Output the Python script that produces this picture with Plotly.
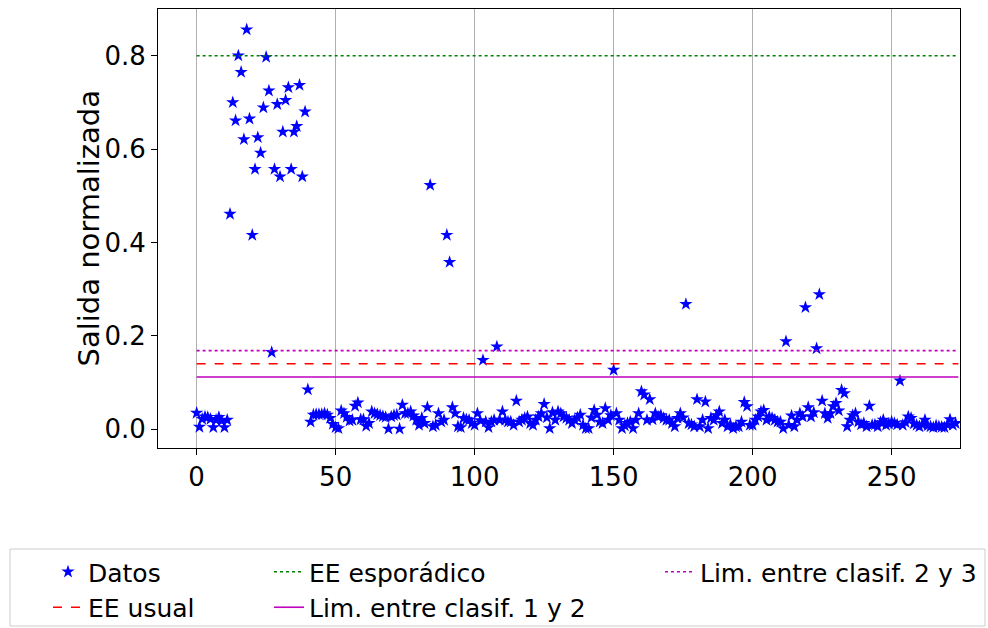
import plotly.graph_objects as go

# Normalized output per sample
salida = [
    0.035, 0.005, 0.022, 0.027, 0.026, 0.022, 0.004, 0.020, 0.026, 0.018,
    0.004, 0.020, 0.461, 0.700, 0.661, 0.800, 0.765, 0.621, 0.856, 0.665,
    0.416, 0.557, 0.625, 0.592, 0.689, 0.797, 0.725, 0.165, 0.557, 0.696,
    0.541, 0.637, 0.705, 0.732, 0.557, 0.637, 0.649, 0.737, 0.541, 0.680,
    0.085, 0.016, 0.031, 0.032, 0.032, 0.032, 0.034, 0.031, 0.024, 0.011,
    0.004, 0.002, 0.040, 0.034, 0.026, 0.018, 0.020, 0.050, 0.057, 0.021,
    0.021, 0.007, 0.013, 0.038, 0.034, 0.032, 0.030, 0.028, 0.026, 0.001,
    0.027, 0.030, 0.031, 0.001, 0.052, 0.034, 0.034, 0.038, 0.029, 0.020,
    0.009, 0.024, 0.013, 0.047, 0.523, 0.006, 0.009, 0.034, 0.016, 0.020,
    0.416, 0.358, 0.047, 0.034, 0.006, 0.004, 0.024, 0.021, 0.020, 0.013,
    0.009, 0.034, 0.019, 0.148, 0.016, 0.004, 0.016, 0.020, 0.177, 0.020,
    0.038, 0.020, 0.016, 0.016, 0.009, 0.061, 0.016, 0.020, 0.024, 0.027,
    0.013, 0.009, 0.020, 0.027, 0.034, 0.054, 0.025, 0.002, 0.036, 0.020,
    0.038, 0.034, 0.027, 0.024, 0.020, 0.013, 0.020, 0.025, 0.031, 0.009,
    0.002, 0.002, 0.025, 0.041, 0.031, 0.016, 0.013, 0.045, 0.020, 0.030,
    0.127, 0.034, 0.020, 0.002, 0.008, 0.013, 0.016, 0.002, 0.020, 0.034,
    0.081, 0.074, 0.020, 0.064, 0.021, 0.034, 0.027, 0.030, 0.024, 0.020,
    0.020, 0.013, 0.006, 0.024, 0.034, 0.025, 0.268, 0.013, 0.010, 0.006,
    0.064, 0.006, 0.020, 0.059, 0.002, 0.024, 0.020, 0.030, 0.038, 0.013,
    0.020, 0.006, 0.010, 0.002, 0.006, 0.006, 0.016, 0.058, 0.049, 0.009,
    0.009, 0.020, 0.027, 0.038, 0.041, 0.020, 0.027, 0.024, 0.020, 0.016,
    0.016, 0.002, 0.188, 0.009, 0.029, 0.006, 0.020, 0.034, 0.027, 0.261,
    0.047, 0.027, 0.036, 0.173, 0.289, 0.061, 0.034, 0.024, 0.034, 0.049,
    0.056, 0.040, 0.084, 0.077, 0.006, 0.020, 0.030, 0.034, 0.016, 0.010,
    0.013, 0.006, 0.050, 0.009, 0.010, 0.006, 0.015, 0.020, 0.009, 0.012,
    0.016, 0.013, 0.010, 0.104, 0.009, 0.015, 0.027, 0.024, 0.012, 0.009,
    0.006, 0.010, 0.020, 0.008, 0.006, 0.004, 0.008, 0.006, 0.005, 0.004,
    0.010, 0.021, 0.009, 0.013,
]
muestras = list(range(len(salida)))

# Reference levels
ee_usual = 0.1405
ee_esporadico = 0.80
lim_1_2 = 0.112
lim_2_3 = 0.1685

x_ticks = [0, 50, 100, 150, 200, 250]
y_ticks = [0.0, 0.2, 0.4, 0.6, 0.8]
y_title = "Salida normalizada"

FONT = "DejaVu Sans"
W, H = 988, 628
x_line = [0, len(salida)]

fig = go.Figure()
fig.add_trace(go.Scatter(
    x=muestras, y=salida, mode="markers", name="Datos",
    marker=dict(symbol="star", size=10, color="#0000ff", line=dict(width=0)),
    legend="legend",
))
fig.add_trace(go.Scatter(
    x=x_line, y=[ee_usual] * 2, mode="lines", name="EE usual",
    line=dict(color="#ff0000", dash="dash", width=1.6), legend="legend",
))
fig.add_trace(go.Scatter(
    x=x_line, y=[ee_esporadico] * 2, mode="lines", name="EE esporádico",
    line=dict(color="#008000", dash="dot", width=1.6), legend="legend2",
))
fig.add_trace(go.Scatter(
    x=x_line, y=[lim_1_2] * 2, mode="lines", name="Lim. entre clasif. 1 y 2",
    line=dict(color="#bf00bf", width=1.6), legend="legend2",
))
fig.add_trace(go.Scatter(
    x=x_line, y=[lim_2_3] * 2, mode="lines", name="Lim. entre clasif. 2 y 3",
    line=dict(color="#bf00bf", dash="dot", width=1.6), legend="legend3",
))


def cx(p):
    return p / W


def cy(p):
    return 1 - p / H


leg_common = dict(
    orientation="v", xanchor="left", yanchor="top",
    xref="container", yref="container",
    bgcolor="rgba(0,0,0,0)", borderwidth=0,
    font=dict(family=FONT, size=25, color="#000000"),
    itemwidth=30, tracegroupgap=0,
)

fig.update_layout(
    width=W, height=H,
    margin=dict(l=158, r=28, t=9, b=180, autoexpand=False),
    paper_bgcolor="#ffffff", plot_bgcolor="#ffffff",
    font=dict(family=FONT, size=28, color="#000000"),
    showlegend=True,
    legend=dict(x=cx(48), y=cy(549), **leg_common),
    legend2=dict(x=cx(269), y=cy(549), **leg_common),
    legend3=dict(x=cx(660), y=cy(549), **leg_common),
    xaxis=dict(
        range=[-13.9, 274.6], tickvals=x_ticks, ticks="outside", ticklen=6,
        tickcolor="#000000", showgrid=True, gridcolor="#b0b0b0", gridwidth=1,
        showline=True, linecolor="#000000", linewidth=1, mirror=True,
        zeroline=False, tickfont=dict(size=26),
    ),
    yaxis=dict(
        range=[-0.04, 0.9], tickvals=y_ticks, tickformat=".1f", ticks="outside",
        ticklen=6, tickcolor="#000000", showgrid=False,
        showline=True, linecolor="#000000", linewidth=1, mirror=True,
        zeroline=False, tickfont=dict(size=26),
    ),
    annotations=[dict(
        text=y_title, textangle=-90, showarrow=False,
        xref="paper", yref="paper", x=(88 - 158) / 802, y=0.5,
        xanchor="center", yanchor="middle",
        font=dict(family=FONT, size=29, color="#000000"),
    )],
    shapes=[dict(
        type="rect", xref="paper", yref="paper",
        x0=(10 - 158) / 802, x1=(985 - 158) / 802,
        y0=(448 - 626) / 439, y1=(448 - 549) / 439,
        line=dict(color="#cccccc", width=1), fillcolor="rgba(0,0,0,0)",
    )],
)

fig.write_html("out.html")
